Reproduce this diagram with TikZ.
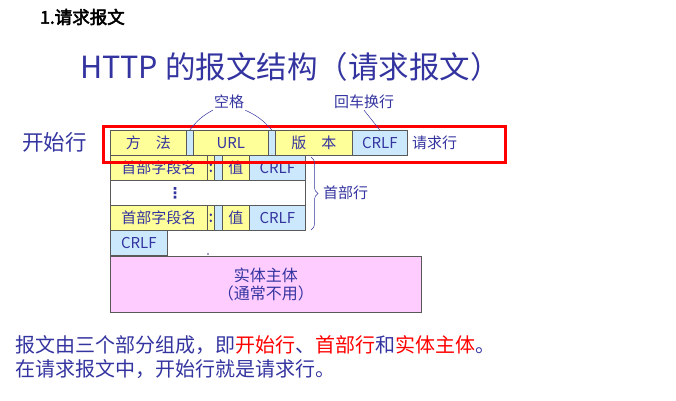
\documentclass[tikz,border=0pt]{standalone}
\usepackage{fontspec}
\setmainfont{Noto Sans CJK SC}[AutoFakeBold=3]
\newfontfamily\symfont{DejaVu Sans}
\usetikzlibrary{decorations.pathreplacing}
\definecolor{textblue}{RGB}{52,52,160}
\definecolor{fieldyellow}{RGB}{255,255,153}
\definecolor{fieldblue}{RGB}{204,232,252}
\definecolor{bodypink}{RGB}{255,204,255}
\newcommand{\fsz}[1]{\fontsize{#1}{#1}\selectfont}

\begin{document}
\begin{tikzpicture}[x=1pt, y=-1pt,
    field/.style={draw=black!65, line width=0.6pt, inner sep=0pt, anchor=north west,
                  minimum height=25pt, text=textblue, font=\fsz{15}},
    yfield/.style={field, fill=fieldyellow},
    bfield/.style={field, fill=fieldblue},
    lbl/.style={text=textblue, inner sep=1pt, font=\fsz{15}},
    callout/.style={draw=textblue, line width=0.5pt}
]
    \useasboundingbox (0,0) rectangle (676,400);

    \node[anchor=west, inner sep=0pt, font=\fsz{17.5}\bfseries] (sect) at (40,17) {1.请求报文};
    \node[anchor=west, inner sep=0pt, text=textblue, font=\fsz{30.5}] (title) at (80,67) {HTTP 的报文结构（请求报文）};

    \node[anchor=west, inner sep=0pt, text=textblue, font=\fsz{21.5}] (startlbl) at (22,142) {开始行};

    \node[yfield, minimum width=76pt] (method) at (110,130) {方\hspace{1em}法};
    \node[bfield, minimum width=7pt] (sp1) at (186,130) {};
    \node[yfield, minimum width=75pt] (url) at (193,130) {URL};
    \node[bfield, minimum width=7pt] (sp2) at (268,130) {};
    \node[yfield, minimum width=77pt] (version) at (275,130) {版\hspace{1em}本};
    \node[bfield, minimum width=55pt] (crlf1) at (352,130) {CRLF};
    \node[lbl, anchor=west] (reqlbl) at (411,143) {请求行};

    \node[yfield, minimum width=97pt] (name1) at (110,155) {首部字段名};
    \node[yfield, minimum width=7pt] (colon1) at (207,155) {\textbf{:}};
    \node[bfield, minimum width=8pt] (sp3) at (214,155) {};
    \node[yfield, minimum width=27pt] (value1) at (222,155) {值};
    \node[bfield, minimum width=56pt] (crlf2) at (249,155) {CRLF};

    \node[field, fill=white, minimum width=195pt] (more) at (110,180) {};
    \node[text=textblue, inner sep=0pt, font=\symfont\fsz{15}\bfseries] (vdots1) at (175,193) {⋮};

    \node[yfield, minimum width=97pt] (name2) at (110,205) {首部字段名};
    \node[yfield, minimum width=7pt] (colon2) at (207,205) {\textbf{:}};
    \node[bfield, minimum width=8pt] (sp4) at (214,205) {};
    \node[yfield, minimum width=27pt] (value2) at (222,205) {值};
    \node[bfield, minimum width=56pt] (crlf3) at (249,205) {CRLF};

    \node[bfield, minimum width=57pt] (crlf4) at (110,230) {CRLF};
    \fill[textblue] (208,254) circle (0.9pt);

    \node[field, fill=bodypink, minimum width=311pt, minimum height=56pt, align=center,
          font=\fsz{16}] (body) at (110,256) {实体主体\\[2pt]（通常不用）};

    \node[draw=red, line width=3pt, inner sep=0pt, minimum width=402pt, minimum height=36pt,
          anchor=north west] (startbox) at (101.5,124.5) {};

    \node[lbl] (spacelbl) at (229,102) {空格};
    \draw[callout] (spacelbl.south west) to[bend right=12] (sp1.north);
    \draw[callout] (spacelbl.south east) to[bend left=12] (sp2.north);
    \node[lbl] (crlflbl) at (364,102) {回车换行};
    \draw[callout] (crlflbl.south) -- (crlf1.north);

    \coordinate (htop) at (311,157);
    \coordinate (hbot) at (311,230);
    \draw[callout, decorate, decoration={brace, amplitude=7pt}] (htop) -- (hbot);
    \node[lbl, anchor=west] (hdrlbl) at (322,193) {首部行};

    \node[anchor=west, inner sep=0pt, text=textblue, font=\fsz{20}] (note1) at (15,345)
        {报文由三个部分组成，即\textcolor{red}{开始行}、\textcolor{red}{首部行}和\textcolor{red}{实体主体}。};
    \node[anchor=west, inner sep=0pt, text=textblue, font=\fsz{20}] (note2) at (15,369)
        {在请求报文中，开始行就是请求行。};
\end{tikzpicture}
\end{document}
